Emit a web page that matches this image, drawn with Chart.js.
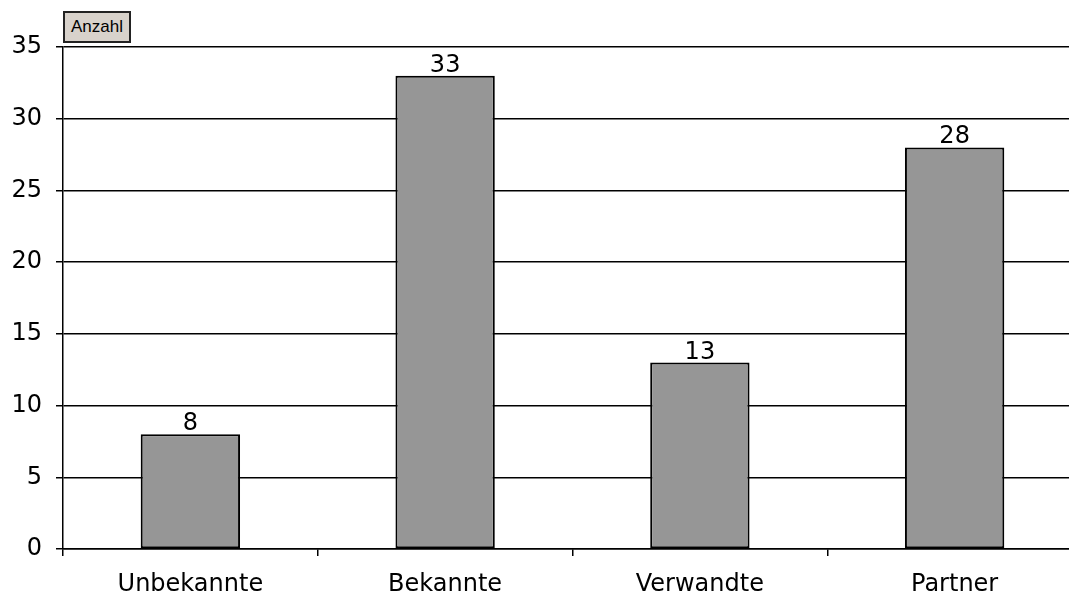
<!DOCTYPE html>
<html>
<head>
<meta charset="utf-8">
<script src="https://cdn.jsdelivr.net/npm/chart.js@4"></script>
<style>
  html, body { margin: 0; padding: 0; background: #fff; overflow: hidden; width: 1069px; height: 599px; }
  #wrap { position: absolute; left: 0; top: 0; width: 1082px; height: 599px; }
  #legend { position: absolute; left: 63px; top: 11px; width: 64px; height: 28px; background: #d8d2cb;
    border: 2px solid #222; font: 17px "Liberation Sans", Arial, sans-serif; color: #000;
    display: flex; align-items: center; justify-content: center; box-sizing: content-box; }
</style>
</head>
<body>
<div id="wrap"><canvas id="c" width="1082" height="599"></canvas></div>
<div id="legend">Anzahl</div>
<script>
const categories = ["Unbekannte", "Bekannte", "Verwandte", "Partner"];
const anzahl = [8, 33, 13, 28];
const yTicks = [0, 5, 10, 15, 20, 25, 30, 35];

const FONT = "'DejaVu Sans', sans-serif";

const valueLabels = {
  id: 'valueLabels',
  afterDatasetsDraw(chart) {
    const ctx = chart.ctx;
    ctx.save();
    ctx.font = "24px " + FONT;
    ctx.fillStyle = "#000";
    ctx.textAlign = "center";
    ctx.textBaseline = "alphabetic";
    chart.getDatasetMeta(0).data.forEach((bar, i) => {
      ctx.fillText(String(anzahl[i]), bar.x, bar.y - 4);
    });
    ctx.restore();
  }
};

new Chart(document.getElementById('c'), {
  type: 'bar',
  data: {
    labels: categories,
    datasets: [{
      label: 'Anzahl',
      data: anzahl,
      backgroundColor: '#969696',
      borderColor: '#000',
      borderWidth: 2,
      borderSkipped: false,
      categoryPercentage: 0.39,
      barPercentage: 1.0
    }]
  },
  options: {
    responsive: false,
    animation: false,
    layout: { padding: { top: 47, right: 0, left: 0, bottom: 0 } },
    plugins: { legend: { display: false }, tooltip: { enabled: false } },
    scales: {
      x: {
        grid: { offset: true, drawOnChartArea: false, color: '#000', tickLength: 7, lineWidth: 1.5 },
        border: { color: '#000', width: 1.5 },
        ticks: { color: '#000', font: { family: FONT, size: 24 }, padding: 14, maxRotation: 0 },
        afterFit(scale) { scale.height = 50; }
      },
      y: {
        min: 0, max: 35,
        afterBuildTicks(scale) { scale.ticks = yTicks.map(v => ({ value: v })); },
        grid: { color: '#000', tickLength: 7, lineWidth: 1.5 },
        border: { color: '#000', width: 1.5 },
        ticks: { color: '#000', font: { family: FONT, size: 24 }, padding: 14 },
        afterFit(scale) { scale.width = 63; }
      }
    }
  },
  plugins: [valueLabels]
});
</script>
</body>
</html>
